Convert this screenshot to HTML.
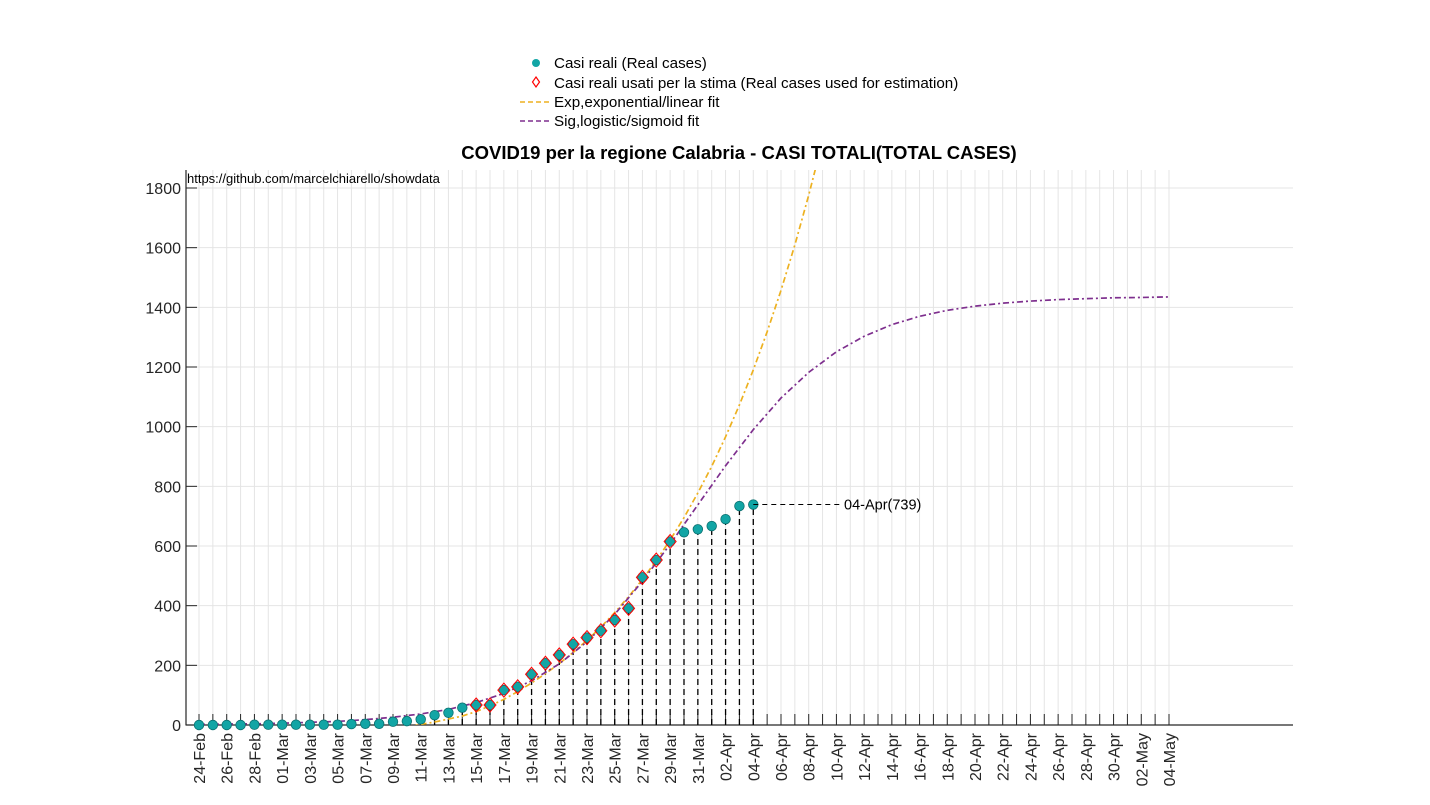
<!DOCTYPE html>
<html><head><meta charset="utf-8"><style>
html,body{margin:0;padding:0;background:#fff;}
svg text{font-family:"Liberation Sans",Arial,sans-serif;}
</style></head><body>
<svg id="chart" width="1430" height="800" viewBox="0 0 1430 800" xmlns="http://www.w3.org/2000/svg">
<defs><clipPath id="plotclip"><rect x="186" y="170" width="1107" height="555"/></clipPath></defs>
<g id="grid"></g>
<g id="axes"></g>
<g id="marks"></g>
<text x="739" y="159" text-anchor="middle" font-size="18.5" font-weight="bold">COVID19 per la regione Calabria - CASI TOTALI(TOTAL CASES)</text>
<text x="187" y="183" font-size="13">https://github.com/marcelchiarello/showdata</text>
<g>
  <g><circle cx="536" cy="63" r="4" fill="#12a5a5"/><text x="554" y="68" font-size="15.2">Casi reali (Real cases)</text></g>
  <g><path d="M536 77 L539.5 82 L536 87 L532.5 82 Z" fill="none" stroke="#f00" stroke-width="1.2"/><text x="554" y="88" font-size="15.2">Casi reali usati per la stima (Real cases used for estimation)</text></g>
  <g><line x1="520" y1="102" x2="550" y2="102" stroke="#edb120" stroke-width="1.6" stroke-dasharray="5,3"/><text x="554" y="107" font-size="15.2">Exp,exponential/linear fit</text></g>
  <g><line x1="520" y1="121" x2="550" y2="121" stroke="#7e2f8e" stroke-width="1.6" stroke-dasharray="5,3"/><text x="554" y="126" font-size="15.2">Sig,logistic/sigmoid fit</text></g>
</g>
</svg>
<script>
// ---- data ----
const dateLabels = ["24-Feb","26-Feb","28-Feb","01-Mar","03-Mar","05-Mar","07-Mar","09-Mar","11-Mar","13-Mar","15-Mar","17-Mar","19-Mar","21-Mar","23-Mar","25-Mar","27-Mar","29-Mar","31-Mar","02-Apr","04-Apr","06-Apr","08-Apr","10-Apr","12-Apr","14-Apr","16-Apr","18-Apr","20-Apr","22-Apr","24-Apr","26-Apr","28-Apr","30-Apr","02-May","04-May"];
const yTicks = [0,200,400,600,800,1000,1200,1400,1600,1800];
const realCases = [0,0,0,0,1,1,1,1,1,1,1,3,4,4,11,13,19,33,41,58,67,67,117,128,170,207,235,271,293,316,352,391,495,553,615,646,656,667,690,734,739];
const estStart = 20;
const estEnd = 34;
const expDays = [15,16,17,18,19,20,21,22,23,24,25,26,27,28,29,30,31,32,33,34,35,36,37,38,39,40,41,42,43,44,45,46];
const expFit = [-6,2,10,20,30,45,64,86,112,141,172,206,243,284,328,377,430,488,551,620,695,778,867,966,1073,1190,1318,1457,1609,1776,1957,2156];
const sigDays = [0,2,4,6,8,10,12,14,16,18,20,22,24,26,28,30,32,34,36,38,40,42,44,46,48,50,52,54,56,58,60,62,64,66,68,70];
const sigFit = [2,3,4,6,9,12,18,26,37,52,75,106,148,205,279,371,482,606,738,869,990,1096,1182,1251,1303,1342,1370,1390,1404,1414,1421,1426,1429,1432,1433,1435];
const lastLabel = "04-Apr(739)";

// ---- scales ----
const X0=199, DX=13.857, Y0=725, KY=0.29833;
const xs = d => X0 + d*DX;
const ys = v => Y0 - v*KY;
const NS="http://www.w3.org/2000/svg";
function mk(tag, parent, attrs){const e=document.createElementNS(NS,tag);for(const k in attrs)e.setAttribute(k,attrs[k]);parent.appendChild(e);return e;}
const grid=document.getElementById('grid'), axes=document.getElementById('axes'), marks=document.getElementById('marks');

for(let d=0; d<=70; d++){
  const l=mk('line',grid,{x1:xs(d),x2:xs(d),y1:170,y2:725,stroke:'#e4e4e4','stroke-width':1});
  
  
  const t=mk('line',axes,{x1:xs(d),x2:xs(d),y1:714,y2:725,stroke:'#262626','stroke-width':1});
  
  
}
yTicks.forEach(v=>{
  const l=mk('line',grid,{x1:186,x2:1293,y1:ys(v),y2:ys(v),stroke:'#e4e4e4','stroke-width':1});
  
  
  const t=mk('line',axes,{x1:186,x2:197,y1:ys(v),y2:ys(v),stroke:'#262626','stroke-width':1});
  
  
  const tx=mk('text',axes,{x:181,y:ys(v)+6,'text-anchor':'end','font-size':16,fill:'#262626'});
  tx.textContent=v;
  
  
});
dateLabels.forEach((s,i)=>{
  const x=xs(i*2);
  const tx=mk('text',axes,{x:0,y:0,'text-anchor':'end','font-size':16,fill:'#262626',transform:`translate(${x+6},733) rotate(-90)`});
  tx.textContent=s;
  
  
});
const ax1=mk('line',axes,{x1:186,x2:186,y1:170,y2:725.5,stroke:'#262626','stroke-width':1.2});


const ax2=mk('line',axes,{x1:186,x2:1293,y1:725,y2:725,stroke:'#262626','stroke-width':1.2});



realCases.forEach((v,i)=>{
  const s=mk('line',marks,{x1:xs(i),x2:xs(i),y1:Y0,y2:ys(v),stroke:'#000','stroke-width':1.3,'stroke-dasharray':'6,4'});
  
  
});
const clipG=mk('g',marks,{'clip-path':'url(#plotclip)'});
const ep=mk('polyline',clipG,{points:expDays.map((d,i)=>xs(d)+','+ys(expFit[i])).join(' '),fill:'none',stroke:'#edb120','stroke-width':1.7,'stroke-dasharray':'6,3,2,3'});


const sp=mk('polyline',clipG,{points:sigDays.map((d,i)=>xs(d)+','+ys(sigFit[i])).join(' '),fill:'none',stroke:'#7e2f8e','stroke-width':1.7,'stroke-dasharray':'6,3,2,3'});


realCases.forEach((v,i)=>{
  const c=mk('circle',marks,{cx:xs(i),cy:ys(v),r:4.8,fill:'#12a5a5',stroke:'#0a6f6f','stroke-width':0.8});
  
  
});
for(let i=estStart;i<=estEnd;i++){
  const x=xs(i), y=ys(realCases[i]);
  const d=mk('path',marks,{d:`M${x} ${y-7} L${x+6} ${y} L${x} ${y+7} L${x-6} ${y} Z`,fill:'none',stroke:'#f00','stroke-width':1});
  
  
}
const li=realCases.length-1, lv=realCases[li];
const hl=mk('line',marks,{x1:xs(li),x2:840,y1:ys(lv),y2:ys(lv),stroke:'#000','stroke-width':1,'stroke-dasharray':'5,4'});


const lt=mk('text',marks,{x:844,y:ys(lv)+5,'font-size':14.5});
lt.textContent=lastLabel;


</script>
</body></html>
